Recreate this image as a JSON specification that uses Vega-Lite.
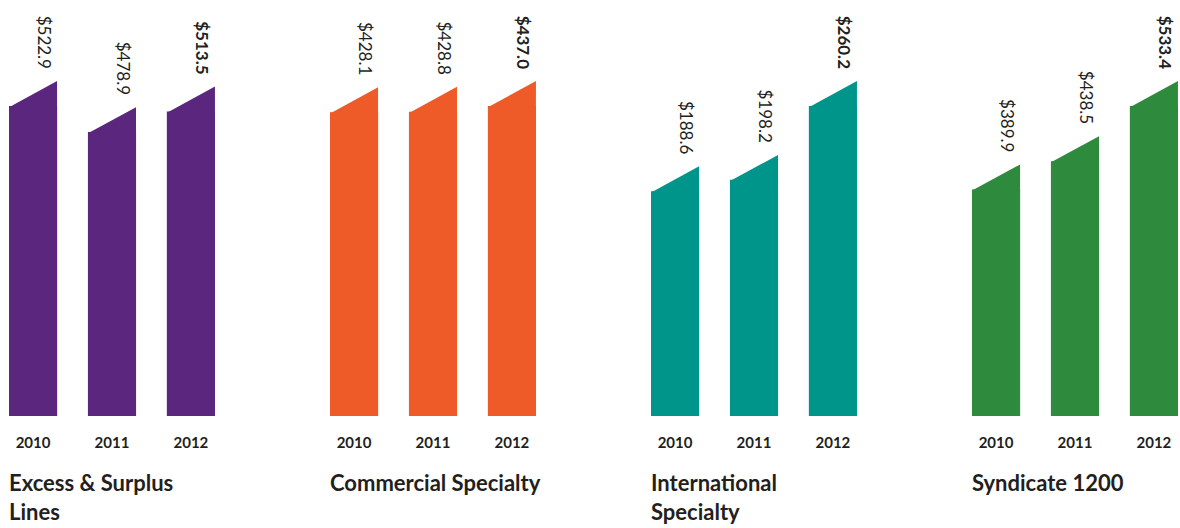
{
  "$schema": "https://vega.github.io/schema/vega-lite/v6.json",
  "background": "white",
  "padding": {"left": 9, "top": 15, "right": 0, "bottom": 0},
  "data": {"values": [
    {"segment": "Excess & Surplus Lines", "order": 1, "year": "2010", "value": 522.9},
    {"segment": "Excess & Surplus Lines", "order": 1, "year": "2011", "value": 478.9},
    {"segment": "Excess & Surplus Lines", "order": 1, "year": "2012", "value": 513.5},
    {"segment": "Commercial Specialty", "order": 2, "year": "2010", "value": 428.1},
    {"segment": "Commercial Specialty", "order": 2, "year": "2011", "value": 428.8},
    {"segment": "Commercial Specialty", "order": 2, "year": "2012", "value": 437.0},
    {"segment": "International Specialty", "order": 3, "year": "2010", "value": 188.6},
    {"segment": "International Specialty", "order": 3, "year": "2011", "value": 198.2},
    {"segment": "International Specialty", "order": 3, "year": "2012", "value": 260.2},
    {"segment": "Syndicate 1200", "order": 4, "year": "2010", "value": 389.9},
    {"segment": "Syndicate 1200", "order": 4, "year": "2011", "value": 438.5},
    {"segment": "Syndicate 1200", "order": 4, "year": "2012", "value": 533.4}
  ]},
  "facet": {
    "column": {
      "field": "segment",
      "type": "nominal",
      "sort": {"field": "order", "op": "min"},
      "header": {
        "title": null,
        "labelOrient": "bottom",
        "labelAnchor": "start",
        "labelAlign": "left",
        "labelBaseline": "top",
        "labelFont": "Lato",
        "labelFontWeight": "bold",
        "labelFontSize": 22,
        "labelColor": "#231f20",
        "labelLineHeight": 29,
        "labelPadding": 24,
        "labelExpr": "datum.value == 'Excess & Surplus Lines' ? ['Excess & Surplus', 'Lines'] : datum.value == 'International Specialty' ? ['International', 'Specialty'] : datum.value"
      }
    }
  },
  "spacing": 114,
  "resolve": {"scale": {"y": "independent"}},
  "spec": {
    "width": 206,
    "height": 310,
    "encoding": {
      "x": {
        "field": "year",
        "type": "ordinal",
        "scale": {"paddingInner": 0.39, "paddingOuter": 0},
        "axis": {
          "title": null,
          "domain": false,
          "ticks": false,
          "tickSize": 0,
          "labelAngle": 0,
          "labelPadding": 19,
          "labelFont": "Lato",
          "labelFontWeight": "bold",
          "labelFontSize": 15,
          "labelColor": "#231f20"
        }
      },
      "y": {
        "field": "value",
        "type": "quantitative",
        "scale": {"nice": false, "zero": true},
        "axis": null
      }
    },
    "layer": [
      {
        "mark": {"type": "bar"},
        "encoding": {
          "color": {
            "field": "segment",
            "type": "nominal",
            "scale": {
              "domain": ["Excess & Surplus Lines", "Commercial Specialty", "International Specialty", "Syndicate 1200"],
              "range": ["#5b267e", "#ef5a29", "#00958a", "#2e8b3e"]
            },
            "legend": null
          }
        }
      },
      {
        "mark": {"type": "point", "shape": "M-1,0.05L1,-1.04L1,0.05Z", "size": 2304, "filled": true, "opacity": 1, "strokeWidth": 0},
        "encoding": {
          "color": {"field": "segment", "type": "nominal", "legend": null}
        }
      },
      {
        "transform": [{"filter": "datum.year != '2012'"}],
        "mark": {"type": "text", "angle": 90, "align": "right", "baseline": "middle", "font": "Lato", "fontSize": 17, "color": "#231f20", "xOffset": 10, "yOffset": -37},
        "encoding": {
          "text": {"field": "value", "type": "quantitative", "format": "$.1f"}
        }
      },
      {
        "transform": [{"filter": "datum.year == '2012'"}],
        "mark": {"type": "text", "angle": 90, "align": "right", "baseline": "middle", "font": "Lato", "fontSize": 17, "fontWeight": "bold", "color": "#231f20", "xOffset": 10, "yOffset": -37},
        "encoding": {
          "text": {"field": "value", "type": "quantitative", "format": "$.1f"}
        }
      }
    ]
  },
  "config": {"view": {"stroke": null}}
}
